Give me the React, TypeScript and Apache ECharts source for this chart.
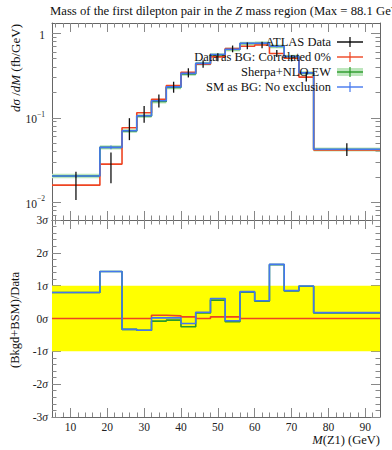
import React, { useEffect, useRef } from 'react';
import * as echarts from 'echarts';

// ---------- data ----------
const binEdges = [5, 18, 24, 28, 32, 36, 40, 44, 48, 52, 56, 60, 64, 68, 72, 76, 94];

// ATLAS data (fb/GeV) and error bar ends
const dataVals = [0.016, 0.028, 0.0764, 0.115, 0.160, 0.228, 0.335, 0.43, 0.52, 0.655, 0.70, 0.725, 0.575, 0.505, 0.300, 0.042];
const dataLo = [0.0107, 0.0168, 0.0545, 0.0875, 0.132, 0.198, 0.300, 0.39, 0.465, 0.595, 0.645, 0.665, 0.525, 0.465, 0.268, 0.0353];
const dataHi = [0.023, 0.039, 0.099, 0.138, 0.188, 0.267, 0.385, 0.48, 0.58, 0.715, 0.775, 0.795, 0.635, 0.55, 0.345, 0.050];

// Data as BG: Correlated 0%
const redVals = [0.016, 0.0284, 0.0764, 0.115, 0.165, 0.240, 0.345, 0.43, 0.525, 0.66, 0.70, 0.725, 0.575, 0.505, 0.303, 0.0418];

// Sherpa+NLO EW (line and band)
const greenVals = [0.0205, 0.0448, 0.0700, 0.105, 0.156, 0.229, 0.330, 0.438, 0.555, 0.643, 0.755, 0.762, 0.698, 0.528, 0.338, 0.0423];
const greenLo = [0.0193, 0.0422, 0.0663, 0.0995, 0.148, 0.217, 0.313, 0.415, 0.526, 0.609, 0.716, 0.722, 0.662, 0.500, 0.320, 0.0400];
const greenHi = [0.0218, 0.0475, 0.0738, 0.1105, 0.164, 0.241, 0.347, 0.461, 0.584, 0.677, 0.794, 0.802, 0.734, 0.556, 0.356, 0.0446];

// SM as BG: No exclusion
const blueVals = [0.0205, 0.0448, 0.0704, 0.106, 0.159, 0.232, 0.335, 0.44, 0.56, 0.645, 0.76, 0.765, 0.70, 0.53, 0.34, 0.0425];
const blueLo = [0.0196, 0.0425, 0.0672, 0.102, 0.153, 0.224, 0.325, 0.427, 0.543, 0.626, 0.737, 0.742, 0.679, 0.514, 0.330, 0.0410];
const blueHi = [0.0214, 0.0471, 0.0736, 0.110, 0.165, 0.240, 0.345, 0.453, 0.577, 0.664, 0.783, 0.788, 0.721, 0.546, 0.350, 0.0440];

// ratio panel, (Bkgd+BSM)/Data in sigma
const blueRatio = [0.79, 1.43, -0.33, -0.36, 0.02, 0.02, -0.15, 0.19, 0.61, -0.07, 0.82, 0.54, 1.65, 0.85, 0.99, 0.18];
const greenRatio = [0.79, 1.43, -0.33, -0.36, -0.08, -0.05, -0.25, 0.17, 0.56, -0.1, 0.8, 0.53, 1.64, 0.84, 0.98, 0.17];
const redRatio = [0, 0, 0, 0, 0.1, 0.08, 0.05, 0, 0.05, 0.05, 0, 0, 0, 0, 0, 0];
const bandLimits = [-1, 1];

// axes
const xRange = [5, 94];
const topRange = [0.0062, 1.32];
const sigmaRange = [-3, 3];
const xMajorTicks = [10, 20, 30, 40, 50, 60, 70, 80, 90];
const xMinorTicks = [6, 8, 12, 14, 16, 18, 22, 24, 26, 28, 32, 34, 36, 38, 42, 44, 46, 48, 52, 54, 56, 58, 62, 64, 66, 68, 72, 74, 76, 78, 82, 84, 86, 88, 92];
const yTopMajorTicks = [0.01, 0.1, 1];
const yTopMinorTicks = [0.007, 0.008, 0.009, 0.02, 0.03, 0.04, 0.05, 0.06, 0.07, 0.08, 0.09, 0.2, 0.3, 0.4, 0.5, 0.6, 0.7, 0.8, 0.9];
const sigmaMajorTicks = [-3, -2, -1, 0, 1, 2, 3];
const sigmaMinorTicks = [-2.8, -2.6, -2.4, -2.2, -1.8, -1.6, -1.4, -1.2, -0.8, -0.6, -0.4, -0.2, 0.2, 0.4, 0.6, 0.8, 1.2, 1.4, 1.6, 1.8, 2.2, 2.4, 2.6, 2.8];

const legendNames = ['ATLAS Data', 'Data as BG: Correlated 0%', 'Sherpa+NLO EW', 'SM as BG: No exclusion'];

// ---------- style ----------
const FONT = "'Liberation Serif', 'Times New Roman', serif";
const RED = '#EE4422';
const BLUE = '#4477EE';
const GREEN = '#2a9a2a';
const BAND = '#bde6bd';
const FRAME = '#666';
const TICK = '#888';

const L = (v: number) => Math.log10(v);

const stepLog = (vals: number[]) => binEdges.map((e, i) => [e, L(vals[Math.min(i, vals.length - 1)])]);
const stepLin = (vals: number[]) => binEdges.map((e, i) => [e, vals[Math.min(i, vals.length - 1)]]);
const centers = binEdges.slice(0, -1).map((e, i) => (e + binEdges[i + 1]) / 2);

function xAxes(gridIndex: number, position: 'top' | 'bottom', labels: boolean) {
  const base = {
    type: 'value',
    gridIndex,
    position,
    min: xRange[0],
    max: xRange[1],
    splitLine: { show: false },
  };
  return [
    {
      ...base,
      axisLine: { show: true, onZero: false, lineStyle: { color: FRAME, width: 1 } },
      axisTick: { show: true, inside: true, length: 9, customValues: xMajorTicks, lineStyle: { color: TICK, width: 1 } },
      axisLabel: labels
        ? { show: true, customValues: xMajorTicks, margin: 4, fontFamily: FONT, fontSize: 11.5, color: '#222' }
        : { show: false },
    },
    {
      ...base,
      axisLine: { show: false, onZero: false },
      axisTick: { show: true, inside: true, length: 4.5, customValues: xMinorTicks, lineStyle: { color: TICK, width: 1 } },
      axisLabel: { show: false },
    },
  ];
}

function yAxes(gridIndex: number, position: 'left' | 'right', min: number, max: number, major: number[], minor: number[], formatter: any, margin = 7) {
  const base = { type: 'value', gridIndex, position, min, max, splitLine: { show: false } };
  return [
    {
      ...base,
      axisLine: { show: true, onZero: false, lineStyle: { color: FRAME, width: 1 } },
      axisTick: { show: true, inside: true, length: 9, customValues: major, lineStyle: { color: TICK, width: 1 } },
      axisLabel: formatter
        ? {
            show: true,
            customValues: major,
            margin,
            fontFamily: FONT,
            fontSize: 11.5,
            color: '#222',
            formatter,
            rich: {
              b: { fontFamily: FONT, fontSize: 11.5, lineHeight: 15, verticalAlign: 'bottom', color: '#222' },
              sup: { fontFamily: FONT, fontSize: 7.5, lineHeight: 15, verticalAlign: 'top', color: '#222' },
              s: { fontFamily: FONT, fontSize: 11.5, fontStyle: 'italic', color: '#222' },
            },
          }
        : { show: false },
    },
    {
      ...base,
      axisLine: { show: false, onZero: false },
      axisTick: { show: true, inside: true, length: 4.5, customValues: minor, lineStyle: { color: TICK, width: 1 } },
      axisLabel: { show: false },
    },
  ];
}

const topFormatter = (v: number) => {
  const r = Math.round(v);
  if (r === 0) return '{b|1}';
  return '{b|10}{sup|\u2212' + Math.abs(r) + '}';
};
const sigmaFormatter = (v: number) => {
  const r = Math.round(v);
  return (r < 0 ? '-' + Math.abs(r) : String(r)) + '{s|\u03c3}';
};

const errorBarRender = (color: string, width: number) => (params: any, api: any) => {
  const lo = api.coord([api.value(0), api.value(1)]);
  const hi = api.coord([api.value(0), api.value(2)]);
  return {
    type: 'line',
    shape: { x1: lo[0], y1: lo[1], x2: hi[0], y2: hi[1] },
    style: { stroke: color, lineWidth: width },
  };
};

const rectRender = (color: string) => (params: any, api: any) => {
  const p1 = api.coord([api.value(0), api.value(3)]);
  const p2 = api.coord([api.value(1), api.value(2)]);
  return {
    type: 'rect',
    shape: { x: p1[0], y: p1[1], width: p2[0] - p1[0], height: p2[1] - p1[1] },
    style: { fill: color },
  };
};

export default function App() {
  const ref = useRef<HTMLDivElement>(null);

  useEffect(() => {
    if (!ref.current) return;
    const chart = echarts.init(ref.current, undefined, { renderer: 'svg' });

    const topX = [...xAxes(0, 'bottom', false), ...xAxes(0, 'top', false)];
    const botX = [...xAxes(1, 'bottom', true), ...xAxes(1, 'top', false)];
    const topMin = L(topRange[0]);
    const topMax = L(topRange[1]);
    const topMajor = yTopMajorTicks.map(L);
    const topMinor = yTopMinorTicks.map(L);
    const topY = [
      ...yAxes(0, 'left', topMin, topMax, topMajor, topMinor, topFormatter, 7),
      ...yAxes(0, 'right', topMin, topMax, topMajor, topMinor, null),
    ];
    const botY = [
      ...yAxes(1, 'left', sigmaRange[0], sigmaRange[1], sigmaMajorTicks, sigmaMinorTicks, sigmaFormatter, 4),
      ...yAxes(1, 'right', sigmaRange[0], sigmaRange[1], sigmaMajorTicks, sigmaMinorTicks, null),
    ];

    const bandData = centers.map((c, i) => [binEdges[i], binEdges[i + 1], L(greenLo[i]), L(greenHi[i])]);
    const dataErr = centers.map((c, i) => [c, L(dataLo[i]), L(dataHi[i])]);
    const blueErrData = centers.map((c, i) => [c, L(blueLo[i]), L(blueHi[i])]);

    const lineSeries = (name: string, data: number[][], color: string, xi: number, yi: number, z: number, width = 1.6) => ({
      type: 'line',
      name,
      data,
      step: 'end',
      xAxisIndex: xi,
      yAxisIndex: yi,
      symbol: 'none',
      lineStyle: { color, width },
      itemStyle: { color },
      z,
      silent: true,
    });

    const legendY = [42, 57, 72, 87];
    const legendColors = ['#000', RED, GREEN, BLUE];
    const legendGraphics: any[] = [];
    legendNames.forEach((name, i) => {
      const y = legendY[i];
      legendGraphics.push({
        type: 'text',
        x: 331,
        y,
        z: 100,
        style: { text: name, fontFamily: FONT, fontSize: 12.5, fill: '#111', align: 'right', verticalAlign: 'middle' },
      });
      if (i === 2) {
        legendGraphics.push({ type: 'rect', z: 100, shape: { x: 337, y: y - 4, width: 26, height: 8 }, style: { fill: BAND } });
      }
      legendGraphics.push({
        type: 'line',
        z: 101,
        shape: { x1: 337, y1: y, x2: 363, y2: y },
        style: { stroke: legendColors[i], lineWidth: 1.4 },
      });
      legendGraphics.push({
        type: 'line',
        z: 101,
        shape: { x1: 350, y1: y - 5, x2: 350, y2: y + 5 },
        style: { stroke: legendColors[i], lineWidth: 1.2 },
      });
    });

    const option: any = {
      animation: false,
      backgroundColor: '#fff',
      grid: [
        { left: 52, right: 12, top: 23, height: 197 },
        { left: 52, right: 12, top: 220, height: 197 },
      ],
      xAxis: [...topX, ...botX],
      yAxis: [...topY, ...botY],
      series: [
        // top panel
        {
          type: 'custom',
          name: 'Sherpa+NLO EW band',
          data: bandData,
          xAxisIndex: 0,
          yAxisIndex: 0,
          renderItem: rectRender(BAND),
          clip: true,
          z: 1,
          silent: true,
        },
        lineSeries('Sherpa+NLO EW', stepLog(greenVals), GREEN, 0, 0, 2),
        lineSeries('Data as BG: Correlated 0%', stepLog(redVals), RED, 0, 0, 3),
        lineSeries('SM as BG: No exclusion', stepLog(blueVals), BLUE, 0, 0, 4),
        {
          type: 'custom',
          name: 'SM as BG errors',
          data: blueErrData,
          xAxisIndex: 0,
          yAxisIndex: 0,
          renderItem: errorBarRender(BLUE, 1.2),
          clip: true,
          z: 5,
          silent: true,
        },
        {
          type: 'custom',
          name: 'ATLAS Data',
          data: dataErr,
          xAxisIndex: 0,
          yAxisIndex: 0,
          renderItem: errorBarRender('#111', 1.3),
          clip: true,
          z: 6,
          silent: true,
        },
        // ratio panel
        {
          type: 'custom',
          name: '1 sigma band',
          data: [[xRange[0], xRange[1], bandLimits[0], bandLimits[1]]],
          xAxisIndex: 4,
          yAxisIndex: 4,
          renderItem: rectRender('#FFFF00'),
          clip: true,
          z: 1,
          silent: true,
        },
        lineSeries('Sherpa+NLO EW ratio', stepLin(greenRatio), GREEN, 4, 4, 2),
        lineSeries('Data as BG ratio', stepLin(redRatio), RED, 4, 4, 3),
        lineSeries('SM as BG ratio', stepLin(blueRatio), BLUE, 4, 4, 4),
      ],
      graphic: [
        {
          type: 'text',
          x: 50,
          y: 11,
          style: {
            text: 'Mass of the first dilepton pair in the {i|Z} mass region (Max = 88.1 GeV)',
            fontFamily: FONT,
            fontSize: 12.7,
            fill: '#111',
            verticalAlign: 'middle',
            rich: { i: { fontFamily: FONT, fontSize: 12.7, fontStyle: 'italic', fill: '#111' } },
          },
        },
        {
          type: 'text',
          x: 15,
          y: 24,
          rotation: Math.PI / 2,
          style: {
            text: '{i|d\u03c3} /{i|dM} (fb/GeV)',
            fontFamily: FONT,
            fontSize: 13,
            fill: '#111',
            align: 'right',
            verticalAlign: 'middle',
            rich: { i: { fontFamily: FONT, fontSize: 13, fontStyle: 'italic', fill: '#111' } },
          },
        },
        {
          type: 'text',
          x: 15,
          y: 320,
          rotation: Math.PI / 2,
          style: {
            text: '(Bkgd+BSM)/Data',
            fontFamily: FONT,
            fontSize: 12.5,
            fill: '#111',
            align: 'center',
            verticalAlign: 'middle',
          },
        },
        {
          type: 'text',
          x: 380,
          y: 440,
          style: {
            text: '{i|M}(Z1) (GeV)',
            fontFamily: FONT,
            fontSize: 12.5,
            fill: '#111',
            align: 'right',
            verticalAlign: 'middle',
            rich: { i: { fontFamily: FONT, fontSize: 12.5, fontStyle: 'italic', fill: '#111' } },
          },
        },
        ...legendGraphics,
      ],
    };

    chart.setOption(option);
    return () => chart.dispose();
  }, []);

  return <div ref={ref} style={{ position: 'fixed', left: 0, top: 0, width: 392, height: 450 }} />;
}
